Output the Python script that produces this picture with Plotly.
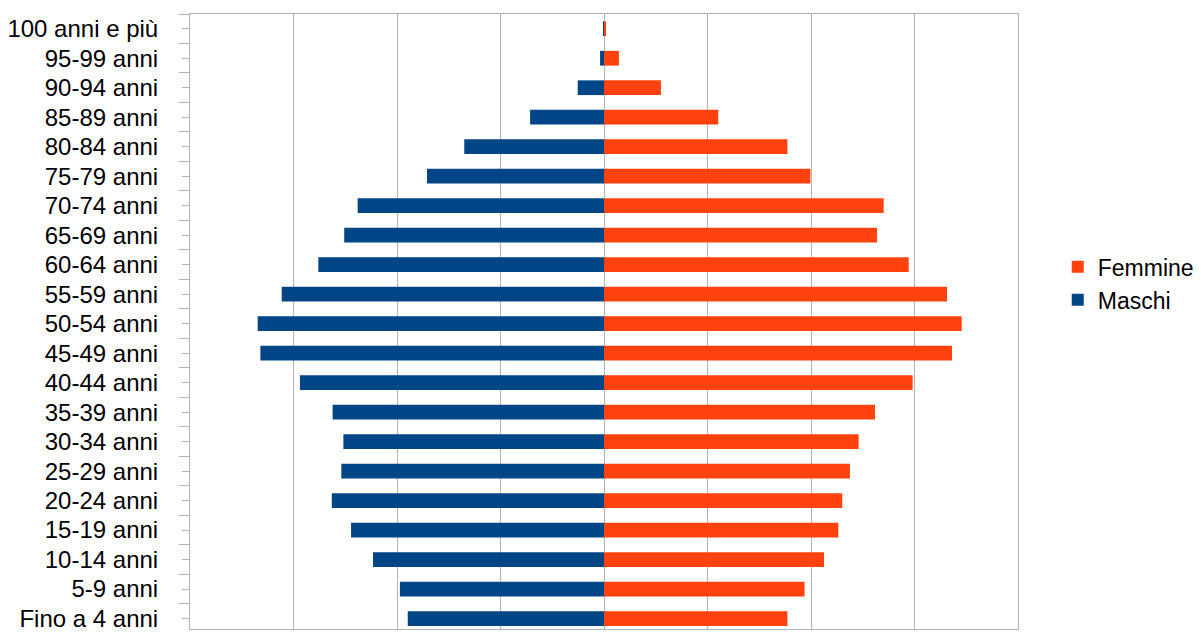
import plotly.graph_objects as go

categories = ["Fino a 4 anni", "5-9 anni", "10-14 anni", "15-19 anni", "20-24 anni",
              "25-29 anni", "30-34 anni", "35-39 anni", "40-44 anni", "45-49 anni",
              "50-54 anni", "55-59 anni", "60-64 anni", "65-69 anni", "70-74 anni",
              "75-79 anni", "80-84 anni", "85-89 anni", "90-94 anni", "95-99 anni",
              "100 anni e più"]

maschi = [948, 986, 1116, 1222, 1315, 1269, 1259, 1311, 1469, 1660,
          1673, 1557, 1380, 1255, 1190, 855, 675, 357, 127, 19, 2]
femmine = [886, 969, 1063, 1132, 1151, 1188, 1230, 1309, 1491, 1681,
           1728, 1657, 1472, 1319, 1351, 997, 886, 552, 275, 72, 10]

BLUE = "#004586"
ORANGE = "#ff420e"
GRID = "#b3b3b3"
FONT = "Liberation Sans"

fig = go.Figure()
fig.add_trace(go.Bar(
    y=categories, x=[-v for v in maschi], orientation="h", name="Maschi",
    marker=dict(color=BLUE, line=dict(width=0)), yaxis="y",
))
fig.add_trace(go.Bar(
    y=categories, x=femmine, orientation="h", name="Femmine",
    marker=dict(color=ORANGE, line=dict(width=0)), yaxis="y2",
))

yrange = [-0.354, 20.5]

fig.update_layout(
    width=1201, height=632,
    margin=dict(l=190, r=183, t=14, b=0),
    paper_bgcolor="white", plot_bgcolor="white",
    barmode="relative", bargap=0.5,
    font=dict(family=FONT, size=24, color="black"),
    showlegend=True,
    legend=dict(
        x=1.048, xanchor="left", y=0.562, yanchor="middle",
        traceorder="reversed",
        font=dict(family=FONT, size=23, color="black"),
        bgcolor="rgba(0,0,0,0)",
    ),
    xaxis=dict(
        range=[-2000, 2000], tick0=0, dtick=500,
        showgrid=True, gridcolor=GRID, gridwidth=1,
        zeroline=True, zerolinecolor=GRID, zerolinewidth=1,
        showticklabels=False, ticks="",
        showline=True, linecolor=GRID, linewidth=1, mirror=True,
        fixedrange=True,
    ),
    yaxis=dict(
        type="category", categoryorder="array", categoryarray=categories,
        range=yrange,
        showgrid=False, zeroline=False,
        ticks="outside", tickson="boundaries", ticklen=10, tickcolor=GRID, tickwidth=1,
        ticklabelstandoff=26,
        tickfont=dict(family=FONT, size=24, color="black"),
        showline=True, linecolor=GRID, linewidth=1, mirror=True,
        fixedrange=True,
    ),
    yaxis2=dict(
        type="category", categoryorder="array", categoryarray=categories,
        range=yrange, overlaying="y", side="left",
        showgrid=False, zeroline=False, showline=False,
        ticks="outside", tickson="labels", ticklen=7, tickcolor=GRID, tickwidth=1,
        showticklabels=False,
        fixedrange=True,
    ),
)

fig.write_html(
    "out.html",
    config={"displayModeBar": False},
    post_script="document.body.style.margin='0';document.body.style.overflow='hidden';",
)
